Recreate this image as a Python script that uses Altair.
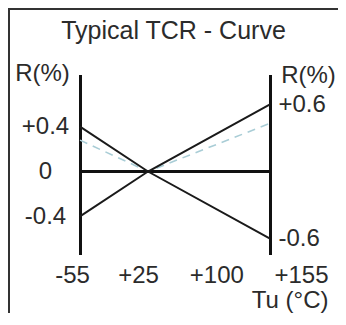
import altair as alt
import pandas as pd

# ---- data ----
temps = [-55, 25, 155]
r_rising = [-0.4, 0.0, 0.6]
r_falling = [0.4, 0.0, -0.6]
r_typical = [0.28, 0.0, 0.43]
zero_temps = [-55, 155]
zero_r = [0.0, 0.0]

x_ticks = [-55, 25, 100, 155]
x_tick_labels = ["-55", "+25", "+100", "+155"]
y_left_ticks = [0.4, 0.0, -0.4]
y_left_labels = ["+0.4", "0", "-0.4"]
y_right_ticks = [0.6, -0.6]
y_right_labels = ["+0.6", "-0.6"]

chart_title = "Typical TCR - Curve"
y_title = "R(%)"
x_title = "Tu (°C)"

FONT = "Liberation Sans"
TXT = "#2b2b2b"
FS = 24


def label_expr(values, labels):
    expr = "''"
    for v, l in reversed(list(zip(values, labels))):
        expr = f"datum.value == {v} ? '{l}' : ({expr})"
    return expr


df_rise = pd.DataFrame({"t": temps, "r": r_rising})
df_fall = pd.DataFrame({"t": temps, "r": r_falling})
df_typ = pd.DataFrame({"t": temps, "r": r_typical})
df_zero = pd.DataFrame({"t": zero_temps, "r": zero_r})

W, H = 330, 305

x_scale = alt.Scale(domain=[-55, 25, 155], range=[72, 140, 262], nice=False, zero=False)
y_scale = alt.Scale(domain=[-0.741, 0.866], range=[246.5, 66.5], nice=False, zero=False)

x_axis = alt.Axis(
    orient="bottom", offset=-58.5, domain=False, ticks=False, tickSize=0, grid=False,
    values=x_ticks, labelExpr=label_expr(x_ticks, x_tick_labels),
    labelFont=FONT, labelFontSize=FS, labelColor=TXT, labelBaseline="middle",
    labelAlign="center", labelPadding=20.5, labelFlush=False, labelOverlap=False, labelBound=False,
    labelOffset={"condition": [
        {"test": "datum.value == -55", "value": -8},
        {"test": "datum.value == 25", "value": -10},
        {"test": "datum.value == 155", "value": 31}], "value": -2},
    title=x_title, titleFont=FONT, titleFontSize=FS, titleFontWeight="normal", titleColor=TXT,
    titleAlign="right", titleBaseline="middle", titleX=320, titleY=45.5, titleAngle=0,
)

y_left_axis = alt.Axis(
    orient="left", offset=-72, domain=True, domainColor="#111111", domainWidth=3,
    ticks=False, tickSize=0, grid=False,
    values=y_left_ticks, labelExpr=label_expr(y_left_ticks, y_left_labels),
    labelFont=FONT, labelFontSize=FS, labelColor=TXT, labelAlign="center", labelBaseline="middle",
    labelPadding=35, labelFlush=False, labelOverlap=False, labelBound=False,
    title=y_title, titleFont=FONT, titleFontSize=FS, titleFontWeight="normal", titleColor=TXT,
    titleAngle=0, titleAlign="center", titleBaseline="middle", titleX=-38, titleY=65,
)

y_right_axis = alt.Axis(
    orient="right", offset=-68, domain=True, domainColor="#111111", domainWidth=3,
    ticks=False, tickSize=0, grid=False,
    values=y_right_ticks, labelExpr=label_expr(y_right_ticks, y_right_labels),
    labelFont=FONT, labelFontSize=FS, labelColor=TXT, labelAlign="left", labelBaseline="middle",
    labelPadding=8, labelFlush=False, labelOverlap=False, labelBound=False,
    title=y_title, titleFont=FONT, titleFontSize=FS, titleFontWeight="normal", titleColor=TXT,
    titleAngle=0, titleAlign="center", titleBaseline="middle", titleX=38, titleY=67,
)

X = alt.X("t:Q", scale=x_scale, axis=x_axis)

# decorative outer frame (top and left edges; the right/bottom edges lie outside the picture)
frame_left = alt.Chart(df_zero).mark_rule(color="#333333", strokeWidth=2).encode(
    x=alt.value(1), y=alt.value(1), y2=alt.value(H)
)
frame_top = alt.Chart(df_zero).mark_rule(color="#333333", strokeWidth=2).encode(
    x=alt.value(0), x2=alt.value(W), y=alt.value(1)
)

typ = alt.Chart(df_typ).mark_line(color="#a9cdd6", strokeWidth=1.6, strokeDash=[8, 6]).encode(
    x=X, y=alt.Y("r:Q", scale=y_scale, axis=y_left_axis)
)
zero = alt.Chart(df_zero).mark_line(color="#111111", strokeWidth=3).encode(
    x=X, y=alt.Y("r:Q", scale=y_scale, axis=y_right_axis)
)
rise = alt.Chart(df_rise).mark_line(color="#1a1a1a", strokeWidth=2).encode(
    x=X, y=alt.Y("r:Q", scale=y_scale, axis=None)
)
fall = alt.Chart(df_fall).mark_line(color="#1a1a1a", strokeWidth=2).encode(
    x=X, y=alt.Y("r:Q", scale=y_scale, axis=None)
)

chart = (
    alt.layer(typ, zero, rise, fall, frame_left, frame_top)
    .resolve_scale(y="independent")
    .properties(
        width=W, height=H, padding=0,
        autosize=alt.AutoSizeParams(type="none"),
        title=alt.TitleParams(chart_title, font=FONT, fontSize=25, fontWeight="normal", color=TXT,
                              anchor="middle", baseline="middle", offset=0, dy=48, dx=0.5),
    )
    .configure_view(stroke=None)
    .configure(background="white")
)

chart.save("out.html", embed_options={"renderer": "svg", "actions": False})
